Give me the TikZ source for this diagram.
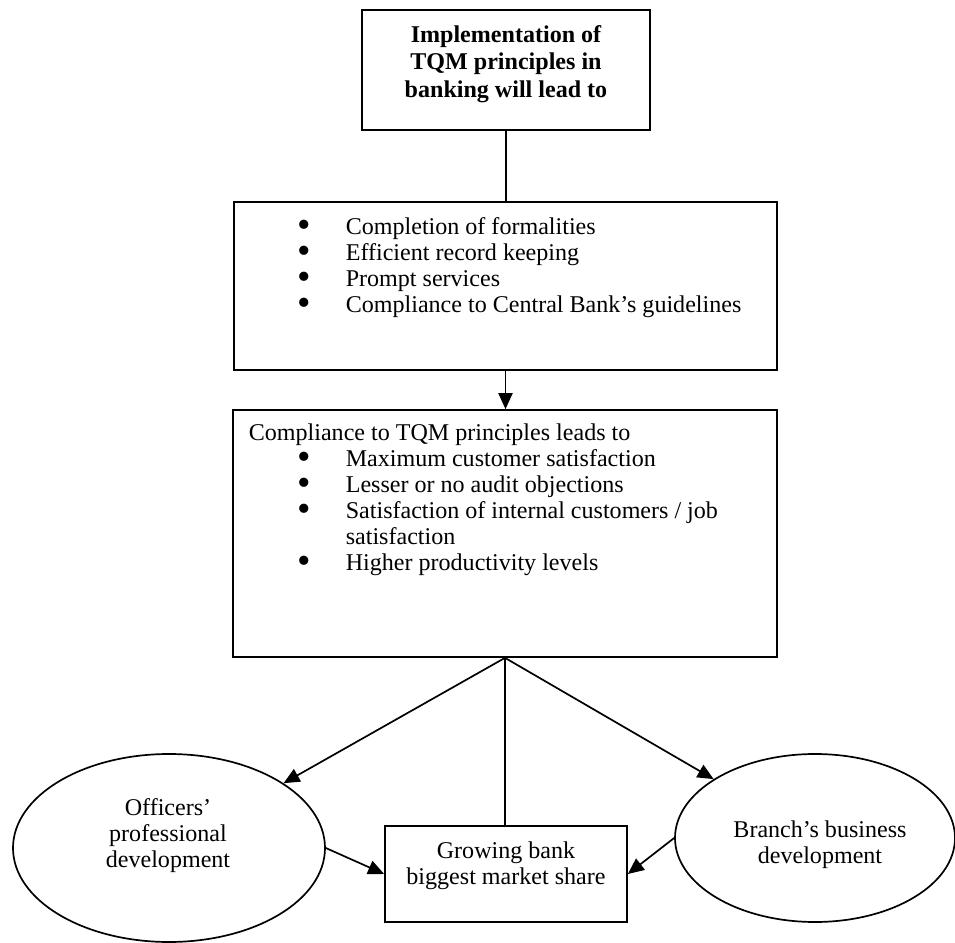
\documentclass[tikz,border=0pt]{standalone}
\usepackage{fontspec}
\setmainfont{Liberation Serif}
\usetikzlibrary{shapes.geometric,arrows.meta}
\newcommand{\bigbul}{\raisebox{-0.14em}{\scalebox{1.6}{\textbullet}}}
\begin{document}
\begin{tikzpicture}[x=0.53pt,y=-0.53pt,
  line width=0.9pt,
  box/.style={draw, rectangle, inner sep=0pt},
  oval/.style={draw, ellipse, inner sep=0pt},
  txt/.style={inner sep=0pt, align=center, font=\fontsize{12.75}{13.8}\selectfont},
  arr/.style={-{Triangle[length=8.5pt,width=7.5pt]}}]
\useasboundingbox (0,0) rectangle (955,943);

% boxes
\node[box, minimum width=288*0.53pt, minimum height=120*0.53pt] (b1) at (506,70) {};
\node[box, minimum width=543*0.53pt, minimum height=168*0.53pt] (b2) at (505.5,286) {};
\node[box, minimum width=544*0.53pt, minimum height=247*0.53pt] (b3) at (505,533.5) {};
\node[box, minimum width=242*0.53pt, minimum height=96*0.53pt] (grow) at (506,874) {};
\node[oval, minimum width=312*0.53pt, minimum height=188*0.53pt] (offc) at (169,848) {};
\node[oval, minimum width=280*0.53pt, minimum height=168*0.53pt] (brch) at (815,838) {};

% texts
\node[txt, font=\fontsize{12.75}{14.6}\selectfont\bfseries] (t1) at (506,64)
  {Implementation of\\TQM principles in\\banking will lead to};
\node[txt, anchor=north west] (t2) at (248,215) {%
  \begin{tabular}{@{}p{26pt}@{}p{25.4pt}@{}l@{}}
  & \bigbul & Completion of formalities\\
  & \bigbul & Efficient record keeping\\
  & \bigbul & Prompt services\\
  & \bigbul & Compliance to Central Bank’s guidelines
  \end{tabular}};
\node[txt, anchor=north west] (t3) at (248,421) {%
  \begin{tabular}{@{}p{26pt}@{}p{25.4pt}@{}l@{}}
  \multicolumn{3}{@{}l@{}}{Compliance to TQM principles leads to}\\
  & \bigbul & Maximum customer satisfaction\\
  & \bigbul & Lesser or no audit objections\\
  & \bigbul & Satisfaction of internal customers / job\\
  & & satisfaction\\
  & \bigbul & Higher productivity levels
  \end{tabular}};
\node[txt] (t4) at (506,866) {Growing bank\\biggest market share};
\node[txt] (t5) at (168,836) {Officers’\\professional\\development};
\node[txt] (t6) at (820,845) {Branch’s business\\development};

% connectors
\draw (b1.south) -- (b1.south |- b2.north);
\draw[arr] (b2.south) -- (b2.south |- b3.north);
\draw[arr] (b3.south) -- (offc);
\draw[arr] (b3.south) -- (brch);
\draw (b3.south) -- (b3.south |- grow.north);
\draw[arr] (offc.east) -- (grow.west);
\draw[arr] (brch.west) -- (grow.east);
\end{tikzpicture}
\end{document}
